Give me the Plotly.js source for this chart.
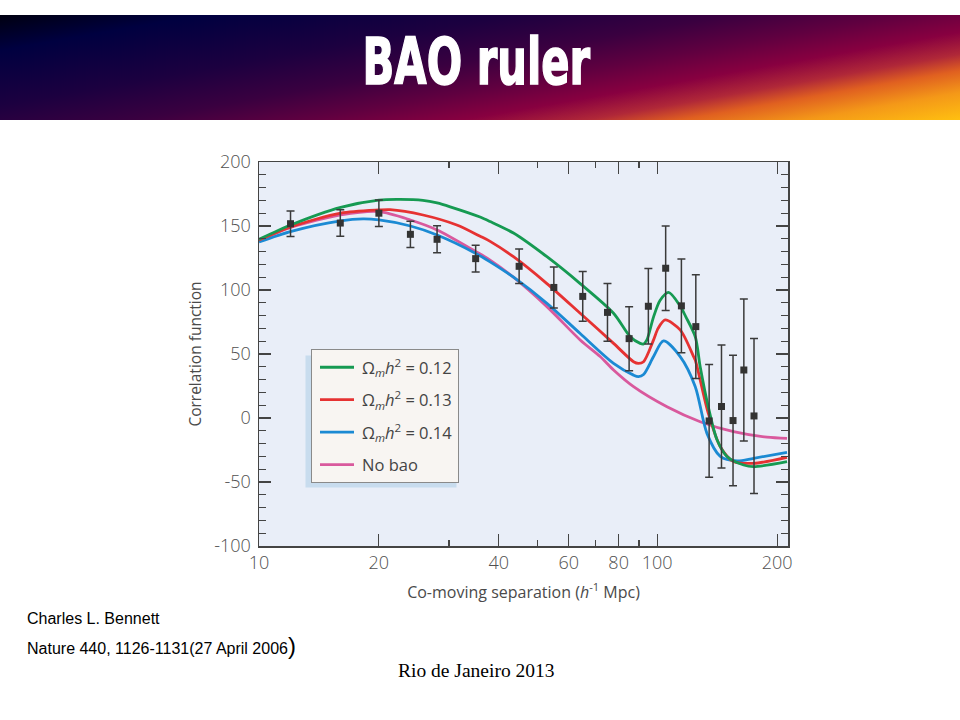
<!DOCTYPE html>
<html>
<head>
<meta charset="utf-8">
<script src="https://cdn.plot.ly/plotly-3.0.1.min.js"></script>
<style>
  html, body { margin: 0; padding: 0; background: #ffffff; }
  #wrap { position: relative; width: 960px; height: 720px; overflow: hidden; }
  #banner {
    position: absolute; left: 0; top: 15px; width: 960px; height: 105px;
    background: linear-gradient(170deg, #000010 0%, #000040 13%, #1c0040 33%, #3a0040 47%, #600040 58%, #880040 68%, #b02838 76%, #e06020 82%, #f49818 90%, #ffc010 100%);
  }
  #chart { position: absolute; left: 0; top: 0; width: 960px; height: 720px; }
</style>
</head>
<body>
<div id="wrap">
  <div id="banner"></div>
  <div id="chart"></div>
</div>
<script>
// ---- data ----
const sepData = [12, 16, 20, 24, 28, 35, 45, 55, 65, 75, 85, 95, 105, 115, 125, 135, 145, 155, 165, 175];
const corrData = [151.8, 152.3, 160, 143.5, 139.6, 124.5, 118.5, 102, 95, 82.5, 62, 87.3, 117, 87.6, 71.4, -2.3, 9, -2, 37.5, 1.6];
const corrErr = [10, 10.3, 10.3, 10.3, 10.5, 10.4, 13.5, 16, 19.5, 22.5, 25, 29.5, 33, 36.6, 40.5, 44, 48, 51, 55.5, 60.5];

const sep012 = [10, 12.05, 16.04, 20, 22.6, 25.8, 28, 30.2, 35.9, 38.05, 43.55, 52.84, 64.05, 77.68, 85.55, 90.6, 92.4, 94.2, 97.9, 101.7, 106.8, 114.2, 118, 124.6, 128.2, 134.3, 141.3, 149.7, 164.8, 174.6, 211.8];
const corr012 = [139.6, 151, 164.6, 170.3, 170.8, 170, 168, 165, 157, 153.5, 144.5, 126, 105, 81.8, 63.5, 58.3, 57.8, 61, 79, 92, 98.2, 87.5, 79, 63.5, 40, 8.9, -17, -30, -36.7, -38, -34];

const sep013 = [10, 12.05, 16.04, 20, 21.34, 25.82, 31.38, 35.92, 38.05, 43.55, 52.84, 64.05, 77.68, 87.2, 89.7, 92.4, 97.9, 100.5, 104.7, 114.2, 123.4, 124.6, 134.3, 144, 155.5, 174.6, 211.8];
const corr013 = [139, 149.5, 160, 162.5, 162.8, 158.6, 150.8, 142, 138, 126, 105, 81.8, 58.3, 44, 42.7, 44, 61, 70, 76.6, 68.8, 48, 45.3, 3.9, -22.4, -34, -35.4, -30.7];

const sep014 = [10, 12.05, 16.04, 18.25, 20, 24, 28, 35.04, 38.05, 43.55, 52.84, 64.05, 77.68, 87.2, 89.7, 92.4, 97.9, 103.7, 114.2, 124.6, 133.3, 144, 158.6, 174.6, 211.8];
const corr014 = [137.5, 145.8, 154, 155.5, 154.7, 150, 143, 128.6, 122, 110, 89.6, 66, 42.7, 33.5, 32.3, 34, 48, 60.2, 48, 24.5, -12, -30, -33.6, -31.5, -26.8];

const sepNoBao = [10, 12.05, 16.04, 20, 24, 28, 35.04, 38.05, 43.55, 52.84, 64.05, 71.9, 77.68, 87.2, 105.8, 128.2, 155.5, 188.6, 211.8];
const corrNoBao = [138.5, 149, 158.6, 161.2, 154.7, 146.9, 130, 123.4, 110, 87, 61, 48, 37.5, 24.5, 8.8, -2.9, -10.7, -15, -15.9];

const xTickVals = [10, 20, 40, 60, 80, 100, 200];
const xTickText = ['10', '20', '40', '60', '80', '100', '200'];
const xMinorVals = [30, 50, 70, 90];
const yTickVals = [-100, -50, 0, 50, 100, 150, 200];
const yTickText = ['-100', '-50', '0', '50', '100', '150', '200'];

const legendNames = [
  '\u03A9<sub><i>m</i></sub><i>h</i><sup>2</sup> = 0.12',
  '\u03A9<sub><i>m</i></sub><i>h</i><sup>2</sup> = 0.13',
  '\u03A9<sub><i>m</i></sub><i>h</i><sup>2</sup> = 0.14',
  'No bao'
];

// ---- layout helpers (plot area in page pixels) ----
const PL = 259, PR = 788, PT = 162, PB = 546;
const px = x => (x - PL) / (PR - PL);
const py = y => 1 - (y - PT) / (PB - PT);

const txtFont = '"Open Sans", "Noto Sans", sans-serif';
const lw = 2.8;
const TITLE_SIZE = 62;

const traces = [
  { x: sepNoBao, y: corrNoBao, mode: 'lines', name: legendNames[3], line: { color: '#d9599d', width: lw, shape: 'spline', smoothing: 0.8 }, legendrank: 4, legendgroup: 'd' },
  { x: sep014, y: corr014, mode: 'lines', name: legendNames[2], line: { color: '#1b8ad3', width: lw, shape: 'spline', smoothing: 0.8 }, legendrank: 3, legendgroup: 'c' },
  { x: sep013, y: corr013, mode: 'lines', name: legendNames[1], line: { color: '#e63232', width: lw, shape: 'spline', smoothing: 0.8 }, legendrank: 2, legendgroup: 'b' },
  { x: sep012, y: corr012, mode: 'lines', name: legendNames[0], line: { color: '#169a52', width: lw, shape: 'spline', smoothing: 0.8 }, legendrank: 1, legendgroup: 'a' },
  { x: sepData, y: corrData, mode: 'markers', showlegend: false,
    marker: { symbol: 'square', size: 7, color: '#333333' },
    error_y: { type: 'data', array: corrErr, visible: true, color: '#3a3a3a', thickness: 1.5, width: 4 } }
];

const layout = {
  width: 960, height: 720,
  paper_bgcolor: 'rgba(0,0,0,0)',
  plot_bgcolor: '#e9eef8',
  margin: { l: PL, r: 960 - PR, t: PT, b: 720 - PB, pad: 0 },
  title: {
    text: '<b>BAO ruler</b>',
    font: { family: '"DejaVu Sans", sans-serif', size: TITLE_SIZE, color: '#ffffff' },
    x: 0.496, xanchor: 'center', xref: 'container',
    y: 1 - 62 / 720, yanchor: 'middle', yref: 'container'
  },
  showlegend: true,
  legend: {
    x: px(311), y: py(349), xanchor: 'left', yanchor: 'top',
    bgcolor: '#f8f5f2', bordercolor: '#8a8a8a', borderwidth: 1,
    font: { family: txtFont, size: 16.5, color: '#444444' },
    traceorder: 'grouped', tracegroupgap: 8, itemwidth: 40
  },
  xaxis: {
    type: 'log', range: [1, Math.log10(213)],
    tickmode: 'array', tickvals: xTickVals, ticktext: xTickText,
    ticks: 'inside', ticklen: 12, tickwidth: 1.2, tickcolor: '#444444',
    minor: { tickmode: 'array', tickvals: xMinorVals, ticks: 'inside', ticklen: 6, tickwidth: 1.2, tickcolor: '#444444', showgrid: false },
    showline: true, linecolor: '#444444', linewidth: 1.5, mirror: 'ticks',
    showgrid: false, zeroline: false,
    tickfont: { family: txtFont, size: 18, weight: 300, color: '#505050' },
    title: { text: 'Co-moving separation (<i>h</i><sup>-1</sup> Mpc)', font: { family: txtFont, size: 16, color: '#4a4a4a' }, standoff: 13 }
  },
  yaxis: {
    range: [-100, 200],
    tickmode: 'array', tickvals: yTickVals, ticktext: yTickText,
    ticks: 'inside', ticklen: 12, tickwidth: 1.2, tickcolor: '#444444',
    minor: { dtick: 10, ticks: 'inside', ticklen: 7, tickwidth: 1.2, tickcolor: '#444444', showgrid: false },
    showline: true, linecolor: '#444444', linewidth: 1.5, mirror: 'ticks',
    showgrid: false, zeroline: false, ticklabelstandoff: 3,
    tickfont: { family: txtFont, size: 18, weight: 300, color: '#505050' },
    title: { text: 'Correlation function', font: { family: txtFont, size: 15.5, color: '#4a4a4a' }, standoff: 9 }
  },
  shapes: [],
  annotations: [
    { xref: 'paper', yref: 'paper', x: px(25), y: py(618), xanchor: 'left', yanchor: 'middle', showarrow: false,
      text: 'Charles L. Bennett', font: { family: '"Liberation Sans", Arial, sans-serif', size: 16, color: '#000000' } },
    { xref: 'paper', yref: 'paper', x: px(25), y: py(645), xanchor: 'left', yanchor: 'middle', showarrow: false,
      text: 'Nature 440, 1126-1131(27 April 2006<span style="font-size:24px">)</span>', font: { family: '"Liberation Sans", Arial, sans-serif', size: 16, color: '#000000' } },
    { xref: 'paper', yref: 'paper', x: px(476), y: py(670), xanchor: 'center', yanchor: 'middle', showarrow: false,
      text: 'Rio de Janeiro 2013', font: { family: '"Liberation Serif", "Times New Roman", serif', size: 19.5, color: '#000000' } }
  ]
};

function finishStyling(gd) {
  const t = gd.querySelector('.gtitle');
  if (t) {
    t.removeAttribute('transform');
    const bb = t.getBBox();
    const cx = bb.x + bb.width / 2;
    const base = bb.y + bb.height * (0.928 / 1.164);
    const sx = 228 / bb.width, sy = 1.04;
    t.setAttribute('transform', `translate(476.5,${base}) scale(${sx},${sy}) translate(${-cx},${-base})`);
    t.style.stroke = '#ffffff';
    t.style.strokeWidth = '1.6px';
  }
  // slightly longer legend line samples, as in the reference
  gd.querySelectorAll('.legend .legendlines path').forEach(p => p.setAttribute('d', 'M8,0h34'));
}

Plotly.newPlot('chart', traces, layout, { displayModeBar: false, staticPlot: true }).then(gd => {
  // light-blue drop shadow behind the legend box
  const bg = gd.querySelector('.legend .bg');
  if (!bg) { finishStyling(gd); return; }
  const r = bg.getBoundingClientRect();
  const c = gd.getBoundingClientRect();
  const L = r.left - c.left, R = r.right - c.left, T = r.top - c.top, B = r.bottom - c.top;
  return Plotly.relayout(gd, { shapes: [
    { type: 'rect', xref: 'paper', yref: 'paper', layer: 'below',
      x0: px(L - 6), x1: px(R - 2), y0: py(T + 6), y1: py(B + 5),
      fillcolor: '#c8dcee', line: { width: 0 } }
  ] }).then(() => finishStyling(gd));
});
</script>
</body>
</html>
